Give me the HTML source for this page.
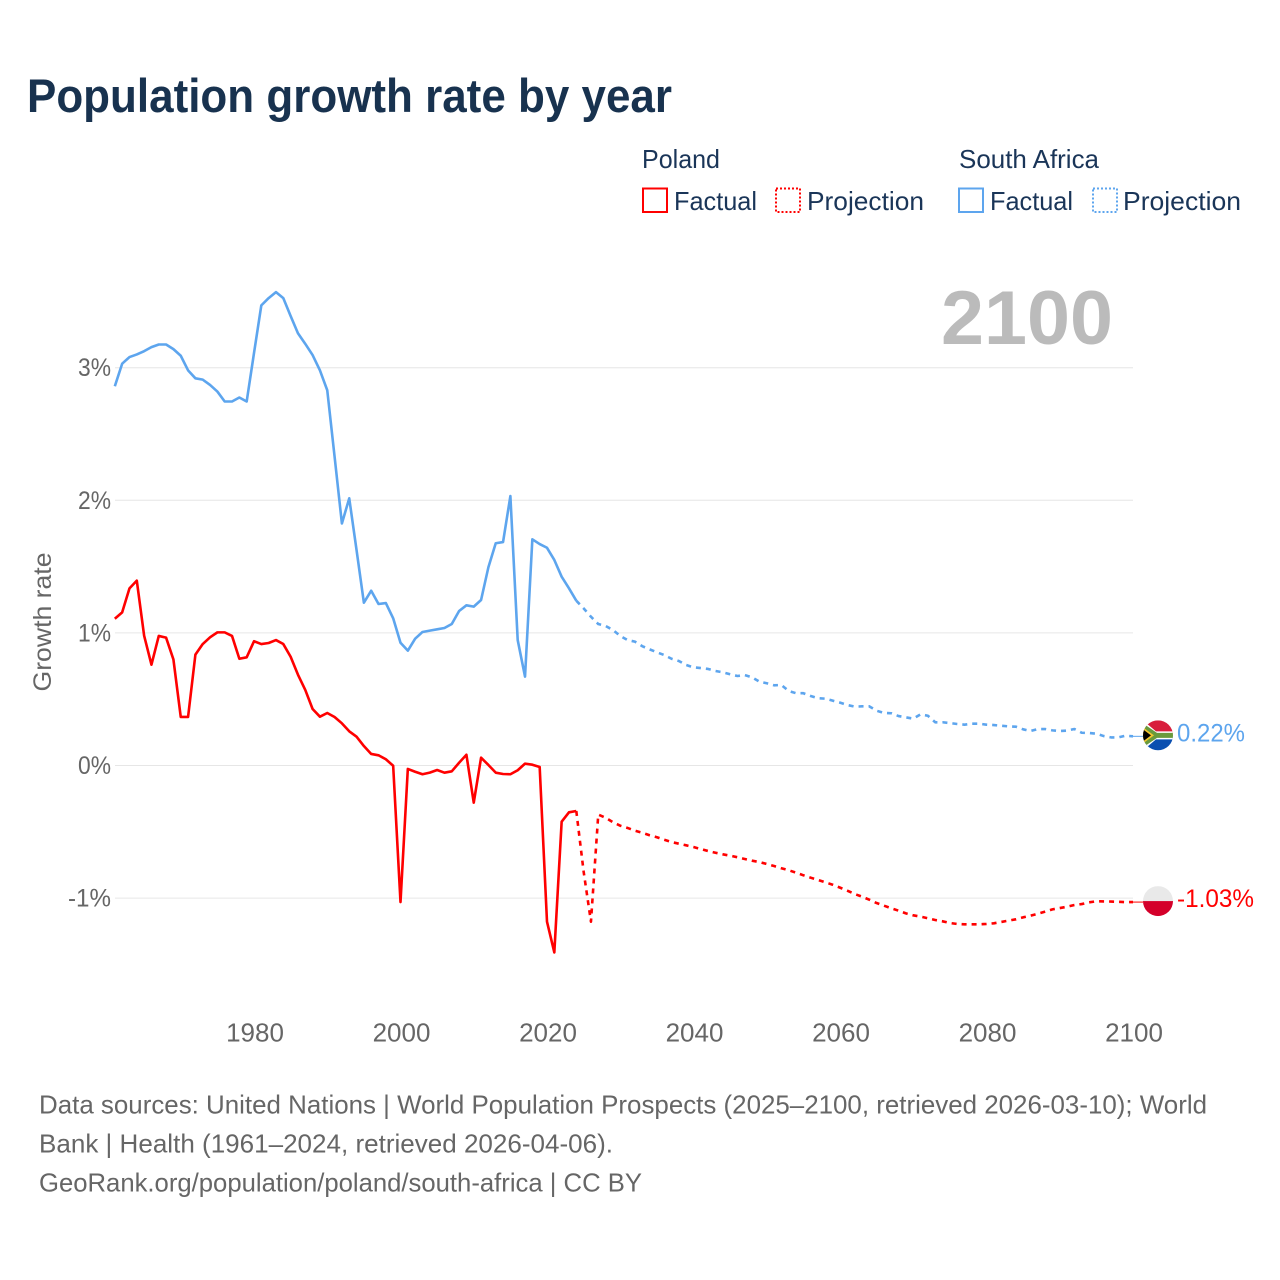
<!DOCTYPE html>
<html lang="en">
<head>
<meta charset="utf-8">
<title>Population growth rate by year</title>
<style>
html,body{margin:0;padding:0;background:#fff;}
svg{display:block;font-family:"Liberation Sans",sans-serif;}
</style>
</head>
<body>
<svg id="chart" xmlns="http://www.w3.org/2000/svg" width="1280" height="1280" viewBox="0 0 1280 1280">
  <defs>
    <clipPath id="flag-clip-za"><circle cx="0" cy="0" r="15"/></clipPath>
    <clipPath id="flag-clip-pl"><circle cx="0" cy="0" r="15"/></clipPath>
  </defs>
  <rect x="0" y="0" width="1280" height="1280" fill="#ffffff"/>
  <text x="27" y="112" font-size="47" font-weight="700" fill="#18324f" textLength="645" lengthAdjust="spacingAndGlyphs">Population growth rate by year</text>

  <g font-size="26" fill="#1a3558">
    <text x="642" y="168" textLength="78" lengthAdjust="spacingAndGlyphs">Poland</text>
    <text x="959" y="168" textLength="140" lengthAdjust="spacingAndGlyphs">South Africa</text>
    <g>
      <rect x="643" y="188.5" width="24" height="23.5" fill="none" stroke="#ff0000" stroke-width="2"/>
      <text x="674" y="210" textLength="83" lengthAdjust="spacingAndGlyphs">Factual</text>
    </g>
    <g>
      <rect x="776" y="188.5" width="24" height="23.5" fill="none" stroke="#ff0000" stroke-width="2" stroke-dasharray="2 2"/>
      <text x="807" y="210" textLength="117" lengthAdjust="spacingAndGlyphs">Projection</text>
    </g>
    <g>
      <rect x="959" y="188.5" width="24" height="23.5" fill="none" stroke="#5da5ee" stroke-width="2"/>
      <text x="990" y="210" textLength="83" lengthAdjust="spacingAndGlyphs">Factual</text>
    </g>
    <g>
      <rect x="1093" y="188.5" width="24" height="23.5" fill="none" stroke="#5da5ee" stroke-width="2" stroke-dasharray="2 2"/>
      <text x="1123" y="210" textLength="118" lengthAdjust="spacingAndGlyphs">Projection</text>
    </g>
  </g>

  <g id="grid"></g>
  <g id="y-ticks"></g>
  <g id="x-ticks"></g>

  <text transform="translate(51,622) rotate(-90)" text-anchor="middle" font-size="25" fill="#666666" textLength="139" lengthAdjust="spacingAndGlyphs">Growth rate</text>
  <text x="941" y="344" font-size="76" font-weight="700" fill="#bbbbbb" textLength="172" lengthAdjust="spacingAndGlyphs">2100</text>

  <g id="series"></g>

  <g id="flag-za">
    <g clip-path="url(#flag-clip-za)">
      <rect x="-15" y="-15" width="30" height="15" fill="#d81e3c"/>
      <rect x="-15" y="0" width="30" height="15" fill="#0a4fb0"/>
      <path d="M-15,-15 L-2,-4 L15,-4 L15,4 L-2,4 L-15,15 Z" fill="#ffffff"/>
      <path d="M-15,-12 L-1,-2.5 L15,-2.5 L15,2.5 L-1,2.5 L-15,12 Z" fill="#6a9a3c"/>
      <path d="M-15,-8 L-4,0 L-15,8 Z" fill="#f2c52e"/>
      <path d="M-15,-6 L-7,0 L-15,6 Z" fill="#000000"/>
    </g>
  </g>
  <g id="flag-pl">
    <g clip-path="url(#flag-clip-pl)">
      <rect x="-15" y="-15" width="30" height="15" fill="#e9e9e9"/>
      <rect x="-15" y="0" width="30" height="15" fill="#d4002a"/>
    </g>
  </g>
  <text id="value-za" x="1177" font-size="25" fill="#5da5ee" textLength="68" lengthAdjust="spacingAndGlyphs"></text>
  <text id="value-pl" x="1177" font-size="25" fill="#ff0000" textLength="77" lengthAdjust="spacingAndGlyphs"></text>

  <g font-size="26" fill="#666666">
    <text x="39" y="1113.5" textLength="1168" lengthAdjust="spacingAndGlyphs">Data sources: United Nations | World Population Prospects (2025–2100, retrieved 2026-03-10); World</text>
    <text x="39" y="1152.5" textLength="574" lengthAdjust="spacingAndGlyphs">Bank | Health (1961–2024, retrieved 2026-04-06).</text>
    <text x="39" y="1191.5" textLength="603" lengthAdjust="spacingAndGlyphs">GeoRank.org/population/poland/south-africa | CC BY</text>
  </g>
</svg>

<script>
const yTicks = [3, 2, 1, 0, -1];
const xTicks = [1980, 2000, 2020, 2040, 2060, 2080, 2100];
const factualStartYear = 1961;
const projectionStartYear = 2024;

const southAfricaFactual = [
  2.86, 3.03, 3.08, 3.10, 3.125, 3.155, 3.175, 3.175, 3.14, 3.09,
  2.98, 2.92, 2.91, 2.87, 2.82, 2.745, 2.745, 2.775, 2.745, 3.11,
  3.47, 3.525, 3.57, 3.525, 3.39, 3.26, 3.18, 3.095, 2.98, 2.83,
  2.33, 1.825, 2.015, 1.625, 1.228, 1.318, 1.218, 1.225, 1.11, 0.926,
  0.866, 0.956, 1.007, 1.017, 1.027, 1.037, 1.067, 1.165, 1.208, 1.198,
  1.248, 1.495, 1.676, 1.685, 2.032, 0.946, 0.67, 1.706, 1.67, 1.642,
  1.55, 1.424, 1.336, 1.243
];
const southAfricaProjection = [
  1.243, 1.185, 1.122, 1.067, 1.052, 1.022, 0.977, 0.946, 0.934, 0.90,
  0.876, 0.854, 0.833, 0.805, 0.788, 0.758, 0.74, 0.735, 0.728, 0.713,
  0.703, 0.688, 0.675, 0.682, 0.665, 0.632, 0.62, 0.605, 0.607, 0.562,
  0.545, 0.545, 0.524, 0.507, 0.504, 0.489, 0.474, 0.456, 0.444, 0.446,
  0.446, 0.413, 0.396, 0.394, 0.373, 0.363, 0.353, 0.386, 0.375, 0.326,
  0.326, 0.32, 0.313, 0.308, 0.315, 0.315, 0.308, 0.305, 0.30, 0.295,
  0.293, 0.273, 0.26, 0.275, 0.275, 0.265, 0.26, 0.263, 0.275, 0.247,
  0.245, 0.24, 0.222, 0.212, 0.212, 0.225, 0.22
];
const polandFactual = [
  1.107, 1.155, 1.336, 1.394, 0.979, 0.76, 0.977, 0.964, 0.80, 0.366,
  0.366, 0.836, 0.916, 0.967, 1.004, 1.004, 0.977, 0.805, 0.816, 0.937,
  0.916, 0.924, 0.946, 0.916, 0.82, 0.685, 0.57, 0.426, 0.368, 0.396,
  0.366, 0.318, 0.258, 0.217, 0.147, 0.087, 0.077, 0.047, -0.002, -1.03,
  -0.026, -0.047, -0.066, -0.054, -0.034, -0.054, -0.044, 0.021, 0.081, -0.28,
  0.059, 0.004, -0.054, -0.064, -0.066, -0.036, 0.014, 0.006, -0.011, -1.178,
  -1.41, -0.424, -0.353, -0.343
];
const polandProjection = [
  -0.343, -0.80, -1.178, -0.37, -0.394, -0.428, -0.454, -0.471, -0.492, -0.507,
  -0.526, -0.541, -0.56, -0.577, -0.59, -0.602, -0.615, -0.63, -0.645, -0.658,
  -0.67, -0.68, -0.692, -0.705, -0.718, -0.728, -0.743, -0.758, -0.775, -0.79,
  -0.808, -0.828, -0.846, -0.863, -0.881, -0.899, -0.921, -0.944, -0.969, -0.989,
  -1.012, -1.037, -1.057, -1.077, -1.095, -1.115, -1.13, -1.14, -1.152, -1.165,
  -1.175, -1.188, -1.195, -1.198, -1.198, -1.198, -1.195, -1.19, -1.18, -1.17,
  -1.16, -1.145, -1.133, -1.118, -1.102, -1.085, -1.075, -1.065, -1.052, -1.045,
  -1.032, -1.024, -1.025, -1.026, -1.028, -1.03, -1.03
];

const NS = 'http://www.w3.org/2000/svg';
function xScale(year) { return 1133 + (year - 2100) * 7.325; }
function xLabel(year) { return 1134 + (year - 2100) * 7.325; }
function yScale(value) { return 765.5 - value * 132.6; }
function pathFrom(startYear, values) {
  return values.map(function (v, i) {
    return (i ? 'L' : 'M') + xScale(startYear + i).toFixed(2) + ',' + yScale(v).toFixed(2);
  }).join(' ');
}
function tickText(v) { return v + '%'; }

const gridGroup = document.getElementById('grid');
const yGroup = document.getElementById('y-ticks');
const xGroup = document.getElementById('x-ticks');
const seriesGroup = document.getElementById('series');

yTicks.forEach(function (t) {
  const line = document.createElementNS(NS, 'line');
  
  
  line.setAttribute('x1', 115);
  line.setAttribute('x2', 1133);
  line.setAttribute('y1', yScale(t));
  line.setAttribute('y2', yScale(t));
  line.setAttribute('stroke', '#e6e6e6');
  line.setAttribute('stroke-width', 1);
  gridGroup.appendChild(line);

  const label = document.createElementNS(NS, 'text');
  
  
  label.setAttribute('x', 111);
  label.setAttribute('y', yScale(t) + 8.5);
  label.setAttribute('text-anchor', 'end');
  label.setAttribute('font-size', 25);
  label.setAttribute('fill', '#666666');
  label.setAttribute('textLength', t < 0 ? 43 : 33);
  label.setAttribute('lengthAdjust', 'spacingAndGlyphs');
  label.textContent = tickText(t);
  yGroup.appendChild(label);
});

xTicks.forEach(function (t) {
  const label = document.createElementNS(NS, 'text');
  
  
  label.setAttribute('x', xLabel(t));
  label.setAttribute('y', 1041.5);
  label.setAttribute('text-anchor', 'middle');
  label.setAttribute('font-size', 26);
  label.setAttribute('fill', '#666666');
  label.textContent = String(t);
  xGroup.appendChild(label);
});

function addLine(name, startYear, values, color, dashed) {
  const p = document.createElementNS(NS, 'path');
  
  
  p.setAttribute('d', pathFrom(startYear, values));
  p.setAttribute('fill', 'none');
  p.setAttribute('stroke', color);
  p.setAttribute('stroke-width', 2.6);
  p.setAttribute('stroke-linejoin', 'round');
  if (dashed) {
    p.setAttribute('stroke-dasharray', '5 5');
  }
  seriesGroup.appendChild(p);
}
addLine('south-africa-factual-line', factualStartYear, southAfricaFactual, '#5da5ee', false);
addLine('south-africa-projection-line', projectionStartYear, southAfricaProjection, '#5da5ee', true);
addLine('poland-factual-line', factualStartYear, polandFactual, '#ff0000', false);
addLine('poland-projection-line', projectionStartYear, polandProjection, '#ff0000', true);

function addEnd(name, flagId, valueId, values, color) {
  const last = values[values.length - 1];
  const yPos = yScale(last);
  const leader = document.createElementNS(NS, 'line');
  
  
  leader.setAttribute('x1', xScale(2100));
  leader.setAttribute('x2', 1143);
  leader.setAttribute('y1', yPos);
  leader.setAttribute('y2', yPos);
  leader.setAttribute('stroke', color);
  leader.setAttribute('stroke-width', 1);
  seriesGroup.appendChild(leader);
  document.getElementById(flagId).setAttribute('transform', 'translate(1158,' + (yPos - 1) + ')');
  const val = document.getElementById(valueId);
  val.setAttribute('y', yPos + 5);
  val.textContent = last.toFixed(2) + '%';
}
addEnd('south-africa-leader-line', 'flag-za', 'value-za', southAfricaProjection, '#5da5ee');
addEnd('poland-leader-line', 'flag-pl', 'value-pl', polandProjection, '#ff0000');
</script>
</body>
</html>
